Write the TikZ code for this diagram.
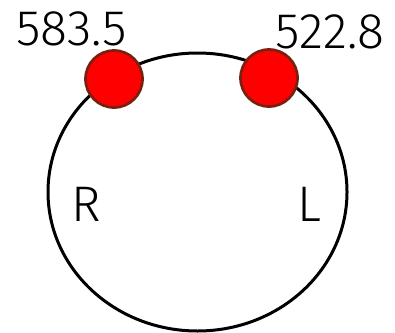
\documentclass[tikz,border=0pt]{standalone}
\usepackage{fontspec}
\setmainfont{Fira Sans Light}
\usetikzlibrary{shapes.geometric}
\definecolor{dotedge}{HTML}{7A2010}
\begin{document}
\begin{tikzpicture}[x=1pt,y=-1pt,
  ring/.style={draw=black,line width=3pt},
  dot/.style={circle,fill=red,draw=dotedge,line width=2.7pt,minimum size=57pt,inner sep=0pt},
  lbl/.style={anchor=base,inner sep=0pt,font=\fontsize{50}{50}\selectfont},
  side/.style={anchor=base,inner sep=0pt,font=\fontsize{50}{50}\selectfont}]
\useasboundingbox[fill=white] (0,0) rectangle (395,332);
\node[ring,ellipse,minimum width=299pt,minimum height=278pt,inner sep=0pt] (ring) at (197.5,192) {};
\node[dot] (dl) at (114,79) {};
\node[dot] (dr) at (269,78) {};
\node[lbl] (tl) at (71.5,45) {583.5};
\node[lbl] (tr) at (330,48) {522.8};
\node[side] (r) at (86.5,221) {R};
\node[side] (l) at (309,221) {L};
\end{tikzpicture}
\end{document}
